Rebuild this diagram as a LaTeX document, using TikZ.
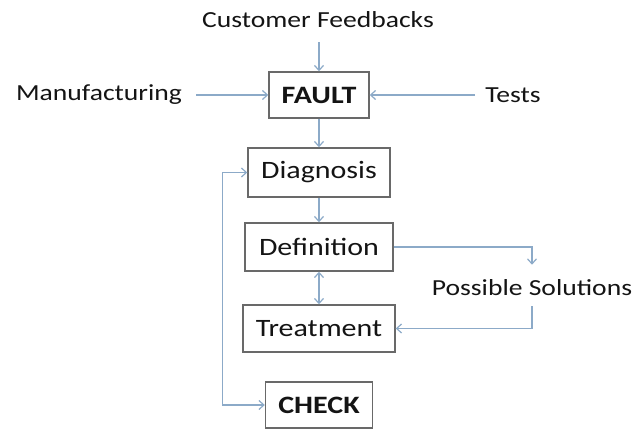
\documentclass[tikz,border=0pt]{standalone}
\usepackage{fontspec}
\setmainfont{Carlito}[FakeStretch=1.2]
\usetikzlibrary{arrows.meta}
\definecolor{boxline}{RGB}{105,105,105}
\definecolor{arrcol}{RGB}{140,170,200}
\definecolor{txt}{RGB}{20,20,20}
\begin{document}
\begin{tikzpicture}[x=1pt,y=-1pt,
  stepbox/.style={draw=boxline,line width=1.4pt,text=txt,inner sep=0pt,
    font=\fontsize{25}{30}\selectfont},
  lbl/.style={text=txt,inner sep=0pt,font=\fontsize{23}{28}\selectfont},
  arr/.style={draw=arrcol,line width=1.2pt,-{Straight Barb[length=5pt,width=9pt]}},
  darr/.style={draw=arrcol,line width=1.2pt,{Straight Barb[length=5pt,width=9pt]}-{Straight Barb[length=5pt,width=9pt]}}]
\useasboundingbox (0,0) rectangle (635,430);
\node[stepbox,minimum width=100pt,minimum height=46pt,font=\fontsize{25}{30}\selectfont\bfseries] (fault) at (319,95) {FAULT};
\node[stepbox,minimum width=142pt,minimum height=49pt] (diag) at (319,172.5) {Diagnosis};
\node[stepbox,minimum width=148pt,minimum height=48pt] (def) at (319,247) {Definition};
\node[stepbox,minimum width=152pt,minimum height=47pt] (treat) at (319,328.5) {Treatment};
\node[stepbox,minimum width=107pt,minimum height=46pt,font=\fontsize{25}{30}\selectfont\bfseries] (check) at (319,405) {CHECK};
\node[lbl] (cf) at (318,20) {Customer Feedbacks};
\node[lbl] (man) at (99,95) {Manufacturing};
\node[lbl] (tests) at (513,95) {Tests};
\node[lbl] (ps) at (532,288) {Possible Solutions};
\draw[arr,shorten <=14pt] (cf.south -| fault.north) -- (fault.north);
\draw[arr,shorten <=14pt] (man.east) -- (fault.west);
\draw[arr,shorten <=10pt] (tests.west) -- (fault.east);
\draw[arr] (fault.south) -- (diag.north);
\draw[arr] (diag.south) -- (def.north);
\draw[darr] (def.south) -- (treat.north);
\draw[arr,shorten >=15pt] (def.east) -| (ps.north);
\draw[arr,shorten <=10pt] (ps.south) |- (treat.east);
\draw[darr] (diag.west) -- ++(-25,0) |- (check.west);
\end{tikzpicture}
\end{document}
